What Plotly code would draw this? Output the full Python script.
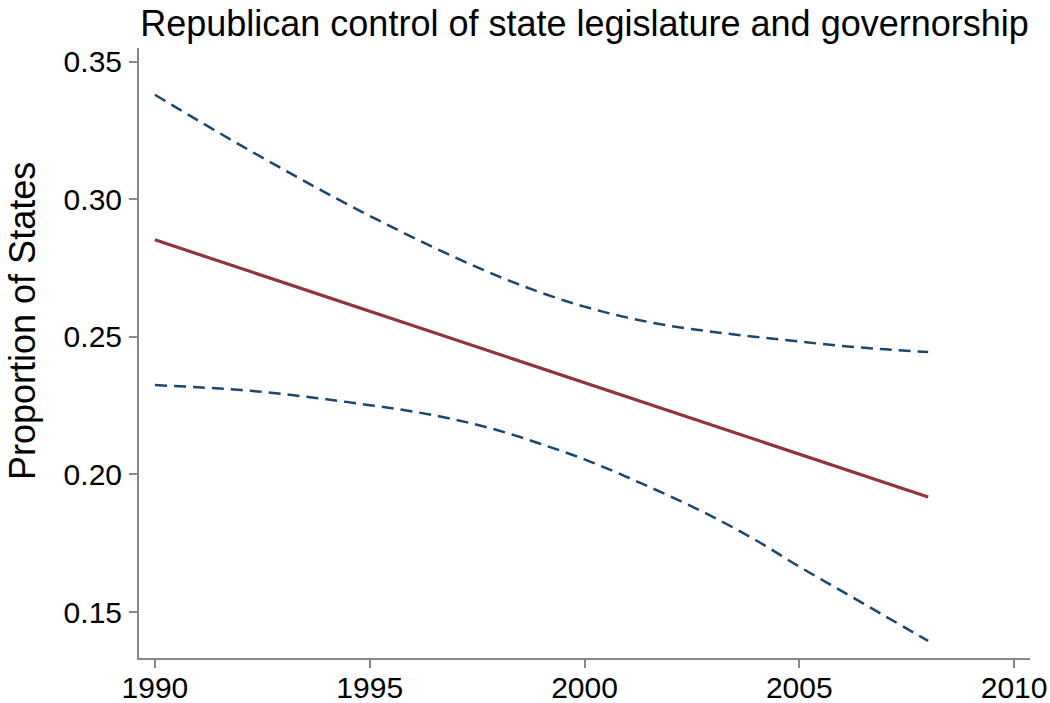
import plotly.graph_objects as go

years = list(range(1990, 2009))
fitted = [0.2853, 0.2801, 0.2749, 0.2697, 0.2645, 0.2593, 0.2541, 0.2489, 0.2437, 0.2385,
          0.2333, 0.2281, 0.2229, 0.2177, 0.2125, 0.2073, 0.2021, 0.1969, 0.1918]
upper = [0.338, 0.3287, 0.3196, 0.3108, 0.3022, 0.294, 0.2862, 0.2788, 0.2720, 0.2660,
         0.2610, 0.2570, 0.2540, 0.2518, 0.2500, 0.2483, 0.2467, 0.2455, 0.2445]
lower = [0.2325, 0.2317, 0.2307, 0.2292, 0.2273, 0.2252, 0.2229, 0.2199, 0.2160, 0.2110,
         0.2055, 0.1990, 0.1920, 0.1845, 0.1760, 0.1665, 0.1575, 0.1485, 0.1395]

x_ticks = [1990, 1995, 2000, 2005, 2010]
y_ticks = [0.15, 0.20, 0.25, 0.30, 0.35]
y_tick_labels = ["0.15", "0.20", "0.25", "0.30", "0.35"]

title_text = "Republican control of state legislature and governorship"
y_title = "Proportion of States"

RED = "#90353b"
NAVY = "#1a476f"
FONT = "Liberation Sans, Arial, sans-serif"

W, H = 1050, 703

fig = go.Figure()
fig.add_trace(go.Scatter(x=years, y=upper, mode="lines", line_shape="spline",
                         line=dict(color=NAVY, width=2.5, dash="12px,7px")))
fig.add_trace(go.Scatter(x=years, y=lower, mode="lines", line_shape="spline",
                         line=dict(color=NAVY, width=2.5, dash="12px,7px")))
fig.add_trace(go.Scatter(x=years, y=fitted, mode="lines",
                         line=dict(color=RED, width=3.2)))

fig.update_layout(
    width=W, height=H,
    margin=dict(l=139, r=20, t=48, b=45),
    paper_bgcolor="white", plot_bgcolor="white",
    showlegend=False,
    font=dict(family=FONT, color="black"),
    title=dict(text=title_text, x=0.5, xref="paper", xanchor="center",
               y=1 - 23 / H, yref="container", yanchor="middle",
               font=dict(size=36, family=FONT, color="black")),
    xaxis=dict(range=[1989.63, 2010.37], tickvals=x_ticks, showgrid=False, zeroline=False,
               automargin=False,
               showline=True, linecolor="#888888", linewidth=2,
               ticks="outside", ticklen=8, tickwidth=1.5, tickcolor="#888888",
               ticklabelstandoff=-6,
               tickfont=dict(size=30, family=FONT, color="black")),
    yaxis=dict(range=[0.1333, 0.355], tickvals=y_ticks, ticktext=y_tick_labels,
               showgrid=False, zeroline=False, automargin=False,
               showline=True, linecolor="#888888", linewidth=2,
               ticks="outside", ticklen=8, tickwidth=1.5, tickcolor="#888888",
               ticklabelstandoff=1,
               tickfont=dict(size=30, family=FONT, color="black")),
    annotations=[dict(text=y_title, textangle=-90, xref="paper", yref="paper",
                      x=(22 - 139) / 891, y=(658 - 321) / 610,
                      xanchor="center", yanchor="middle", showarrow=False,
                      font=dict(size=36, family=FONT, color="black"))],
)

# remove the browser's default 8px body margin so the figure fills the window exactly
fig.write_html("out.html",
               config={"displayModeBar": False},
               post_script="document.body.style.margin='0';document.body.style.overflow='hidden';")
